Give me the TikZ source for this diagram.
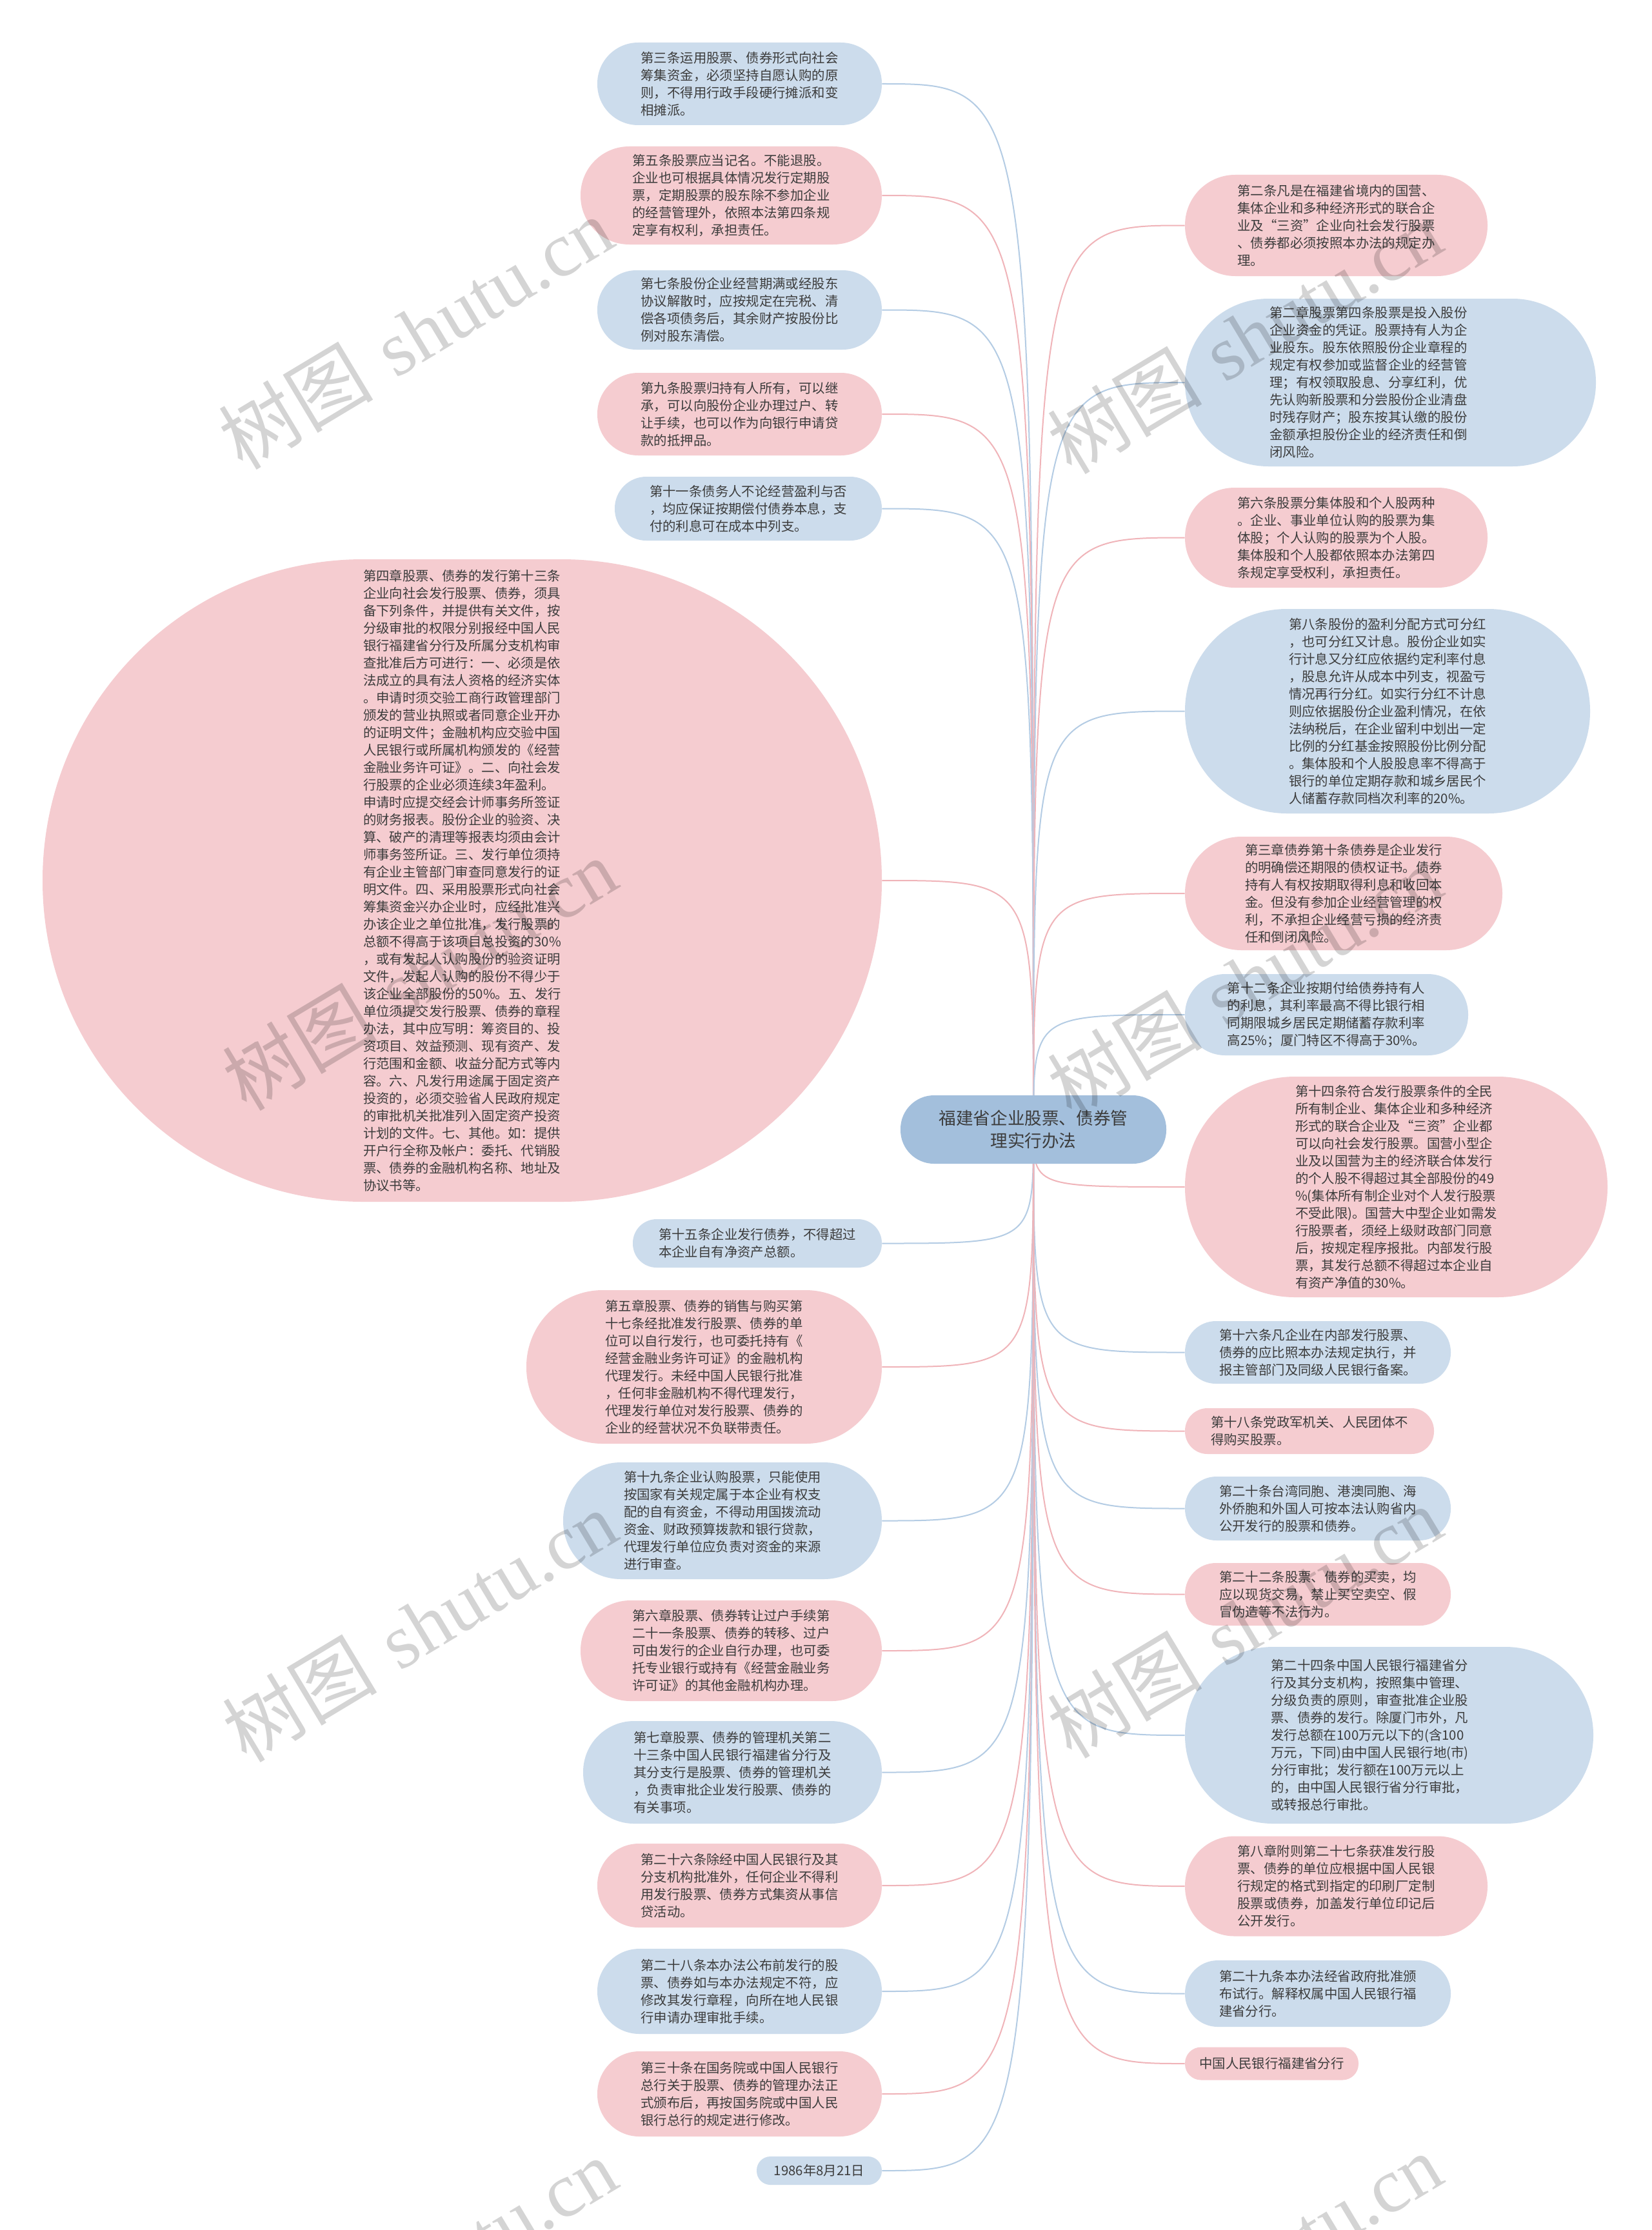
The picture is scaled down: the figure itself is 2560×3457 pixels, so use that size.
\documentclass[tikz,border=0pt]{standalone}
\usepackage{fontspec}
\newfontfamily\cjk{Noto Sans CJK SC}
\newfontfamily\wmserif{Liberation Serif}
\usetikzlibrary{backgrounds}
\pgfdeclarelayer{bgzero}
\pgfsetlayers{bgzero,background,main}
\definecolor{fb}{HTML}{CCDCEC}
\definecolor{fp}{HTML}{F5CCD0}
\definecolor{fc}{HTML}{A3BFDC}
\definecolor{txt}{HTML}{3C3C3C}
\definecolor{lp}{HTML}{F0B4B9}
\definecolor{lb}{HTML}{B4CCE4}
\tikzset{
  mm/.style={inner sep=0pt, align=left, text=txt, font=\cjk\fontsize{10.2pt}{13.5pt}\selectfont},
  ctr/.style={inner sep=0pt, align=center, text=txt, font=\cjk\fontsize{13.3pt}{17.5pt}\selectfont},
  lnp/.style={draw=lp, line width=1pt},
  lnb/.style={draw=lb, line width=1pt},
  wm/.style={text=black, text opacity=0.17, inner sep=0pt, rotate=31}
}
\newcommand\mmn[7]{\node[mm, fill=#2, minimum width=#5*0.5pt, minimum height=#6*0.5pt, rounded corners=#6*0.25pt-0.3pt] (#1) at (#3,#4) {#7};}
\newcommand\mmo[8]{\node[mm, fill=#2, minimum width=#5*0.5pt, minimum height=#6*0.5pt, rounded corners=#6*0.25pt-0.3pt] (#1) at (#3,#4) {};
  \node[mm, xshift=#8*0.5pt] (#1t) at (#1.center) {#7};}
\begin{document}
\begin{tikzpicture}[x=0.5pt, y=-0.5pt]
\useasboundingbox (0,0) rectangle (2560,3457);
\begin{pgfonlayer}{bgzero}
\fill[white] (0,0) rectangle (2560,3457);
\end{pgfonlayer}
% centre
\node[ctr, fill=fc, minimum width=206pt, minimum height=53pt, rounded corners=26pt] (C) at (1602,1751) {福建省企业股票、债券管\\理实行办法};
% left column
\mmn{L1}{fb}{1146.5}{130}{441}{128}{第三条运用股票、债券形式向社会\\筹集资金，必须坚持自愿认购的原\\则，不得用行政手段硬行摊派和变\\相摊派。}
\mmn{L2}{fp}{1133.5}{303}{467}{152}{第五条股票应当记名。不能退股。\\企业也可根据具体情况发行定期股\\票，定期股票的股东除不参加企业\\的经营管理外，依照本法第四条规\\定享有权利，承担责任。}
\mmn{L3}{fb}{1146.5}{480.5}{441}{123}{第七条股份企业经营期满或经股东\\协议解散时，应按规定在完税、清\\偿各项债务后，其余财产按股份比\\例对股东清偿。}
\mmn{L4}{fp}{1146.5}{642}{441}{128}{第九条股票归持有人所有，可以继\\承，可以向股份企业办理过户、转\\让手续，也可以作为向银行申请贷\\款的抵押品。}
\mmn{L5}{fb}{1160}{788.5}{414}{99}{第十一条债务人不论经营盈利与否\\，均应保证按期偿付债券本息，支\\付的利息可在成本中列支。}
\mmn{L6}{fp}{716.5}{1365}{1301}{996}{第四章股票、债券的发行第十三条\\企业向社会发行股票、债券，须具\\备下列条件，并提供有关文件，按\\分级审批的权限分别报经中国人民\\银行福建省分行及所属分支机构审\\查批准后方可进行：一、必须是依\\法成立的具有法人资格的经济实体\\。申请时须交验工商行政管理部门\\颁发的营业执照或者同意企业开办\\的证明文件；金融机构应交验中国\\人民银行或所属机构颁发的《经营\\金融业务许可证》。二、向社会发\\行股票的企业必须连续3年盈利。\\申请时应提交经会计师事务所签证\\的财务报表。股份企业的验资、决\\算、破产的清理等报表均须由会计\\师事务签所证。三、发行单位须持\\有企业主管部门审查同意发行的证\\明文件。四、采用股票形式向社会\\筹集资金兴办企业时，应经批准兴\\办该企业之单位批准，发行股票的\\总额不得高于该项目总投资的30\%\\，或有发起人认购股份的验资证明\\文件，发起人认购的股份不得少于\\该企业全部股份的50\%。五、发行\\单位须提交发行股票、债券的章程\\办法，其中应写明：筹资目的、投\\资项目、效益预测、现有资产、发\\行范围和金额、收益分配方式等内\\容。六、凡发行用途属于固定资产\\投资的，必须交验省人民政府规定\\的审批机关批准列入固定资产投资\\计划的文件。七、其他。如：提供\\开户行全称及帐户：委托、代销股\\票、债券的金融机构名称、地址及\\协议书等。}
\mmn{L7}{fb}{1174}{1927.5}{386}{75}{第十五条企业发行债券，不得超过\\本企业自有净资产总额。}
\mmn{L8}{fp}{1091.5}{2119}{551}{238}{第五章股票、债券的销售与购买第\\十七条经批准发行股票、债券的单\\位可以自行发行，也可委托持有《\\经营金融业务许可证》的金融机构\\代理发行。未经中国人民银行批准\\，任何非金融机构不得代理发行，\\代理发行单位对发行股票、债券的\\企业的经营状况不负联带责任。}
\mmn{L9}{fb}{1120}{2357.5}{494}{181}{第十九条企业认购股票，只能使用\\按国家有关规定属于本企业有权支\\配的自有资金，不得动用国拨流动\\资金、财政预算拨款和银行贷款，\\代理发行单位应负责对资金的来源\\进行审查。}
\mmn{L10}{fp}{1133.5}{2559}{467}{156}{第六章股票、债券转让过户手续第\\二十一条股票、债券的转移、过户\\可由发行的企业自行办理，也可委\\托专业银行或持有《经营金融业务\\许可证》的其他金融机构办理。}
\mmn{L11}{fb}{1135.5}{2747.5}{463}{159}{第七章股票、债券的管理机关第二\\十三条中国人民银行福建省分行及\\其分支行是股票、债券的管理机关\\，负责审批企业发行股票、债券的\\有关事项。}
\mmn{L12}{fp}{1146.5}{2923}{441}{130}{第二十六条除经中国人民银行及其\\分支机构批准外，任何企业不得利\\用发行股票、债券方式集资从事信\\贷活动。}
\mmn{L13}{fb}{1146.5}{3087}{441}{132}{第二十八条本办法公布前发行的股\\票、债券如与本办法规定不符，应\\修改其发行章程，向所在地人民银\\行申请办理审批手续。}
\mmn{L14}{fp}{1146.5}{3246}{441}{132}{第三十条在国务院或中国人民银行\\总行关于股票、债券的管理办法正\\式颁布后，再按国务院或中国人民\\银行总行的规定进行修改。}
\mmn{L15}{fb}{1270}{3365}{194}{44}{1986年8月21日}
% right column
\mmn{R1}{fp}{2071.5}{349.5}{469}{157}{第二条凡是在福建省境内的国营、\\集体企业和多种经济形式的联合企\\业及“三资”企业向社会发行股票\\、债券都必须按照本办法的规定办\\理。}
\mmo{R2}{fb}{2155.5}{593}{637}{260}{第二章股票第四条股票是投入股份\\企业资金的凭证。股票持有人为企\\业股东。股东依照股份企业章程的\\规定有权参加或监督企业的经营管\\理；有权领取股息、分享红利，优\\先认购新股票和分尝股份企业清盘\\时残存财产；股东按其认缴的股份\\金额承担股份企业的经济责任和倒\\闭风险。}{-34}
\mmn{R3}{fp}{2071.5}{833.5}{469}{155}{第六条股票分集体股和个人股两种\\。企业、事业单位认购的股票为集\\体股；个人认购的股票为个人股。\\集体股和个人股都依照本办法第四\\条规定享受权利，承担责任。}
\mmn{R4}{fb}{2151}{1102.5}{628}{317}{第八条股份的盈利分配方式可分红\\，也可分红又计息。股份企业如实\\行计息又分红应依据约定利率付息\\，股息允许从成本中列支，视盈亏\\情况再行分红。如实行分红不计息\\则应依据股份企业盈利情况，在依\\法纳税后，在企业留利中划出一定\\比例的分红基金按照股份比例分配\\。集体股和个人股股息率不得高于\\银行的单位定期存款和城乡居民个\\人储蓄存款同档次利率的20\%。}
\mmn{R5}{fp}{2083}{1385}{492}{176}{第三章债券第十条债券是企业发行\\的明确偿还期限的债权证书。债券\\持有人有权按期取得利息和收回本\\金。但没有参加企业经营管理的权\\利，不承担企业经营亏损的经济责\\任和倒闭风险。}
\mmn{R6}{fb}{2056.5}{1573}{439}{126}{第十二条企业按期付给债券持有人\\的利息，其利率最高不得比银行相\\同期限城乡居民定期储蓄存款利率\\高25\%；厦门特区不得高于30\%。}
\mmn{R7}{fp}{2164.5}{1840}{655}{342}{第十四条符合发行股票条件的全民\\所有制企业、集体企业和多种经济\\形式的联合企业及“三资”企业都\\可以向社会发行股票。国营小型企\\业及以国营为主的经济联合体发行\\的个人股不得超过其全部股份的49\\\%(集体所有制企业对个人发行股票\\不受此限)。国营大中型企业如需发\\行股票者，须经上级财政部门同意\\后，按规定程序报批。内部发行股\\票，其发行总额不得超过本企业自\\有资产净值的30\%。}
\mmn{R8}{fb}{2043}{2096.5}{412}{97}{第十六条凡企业在内部发行股票、\\债券的应比照本办法规定执行，并\\报主管部门及同级人民银行备案。}
\mmn{R9}{fp}{2030}{2218.5}{386}{71}{第十八条党政军机关、人民团体不\\得购买股票。}
\mmn{R10}{fb}{2043}{2338.5}{412}{99}{第二十条台湾同胞、港澳同胞、海\\外侨胞和外国人可按本法认购省内\\公开发行的股票和债券。}
\mmn{R11}{fp}{2043}{2471.5}{412}{97}{第二十二条股票、债券的买卖，均\\应以现货交易，禁止买空卖空、假\\冒伪造等不法行为。}
\mmo{R12}{fb}{2153.5}{2690}{633}{274}{第二十四条中国人民银行福建省分\\行及其分支机构，按照集中管理、\\分级负责的原则，审查批准企业股\\票、债券的发行。除厦门市外，凡\\发行总额在100万元以下的(含100\\万元，下同)由中国人民银行地(市)\\分行审批；发行额在100万元以上\\的，由中国人民银行省分行审批，\\或转报总行审批。}{-30}
\mmn{R13}{fp}{2071.5}{2924}{469}{155}{第八章附则第二十七条获准发行股\\票、债券的单位应根据中国人民银\\行规定的格式到指定的印刷厂定制\\股票或债券，加盖发行单位印记后\\公开发行。}
\mmn{R14}{fb}{2043}{3090.5}{412}{103}{第二十九条本办法经省政府批准颁\\布试行。解释权属中国人民银行福\\建省分行。}
\mmn{R15}{fp}{1971.5}{3199}{269}{51}{中国人民银行福建省分行}
% connectors
\begin{pgfonlayer}{background}
\foreach \n/\s in {L1/lnb,L2/lnp,L3/lnb,L4/lnp,L5/lnb,L6/lnp,L7/lnb,L8/lnp,L9/lnb,L10/lnp,L11/lnb,L12/lnp,L13/lnb,L14/lnp,L15/lnb}
  \draw[\s] (C.center) .. controls (C.center |- \n.east) .. (\n.east);
\foreach \n/\s in {R1/lnp,R2/lnb,R3/lnp,R4/lnb,R5/lnp,R6/lnb,R7/lnp,R8/lnb,R9/lnp,R10/lnb,R11/lnp,R12/lnb,R13/lnp,R14/lnb,R15/lnp}
  \draw[\s] (C.center) .. controls (C.center |- \n.west) .. (\n.west);
\end{pgfonlayer}
% watermarks
\begin{scope}
\clip (0,0) rectangle (2560,3457);
\foreach \i/\x/\y in {1/644/516,2/1929/523,3/650/1510,4/1929/1521,5/650/2520,6/1929/2514,7/650/3524,8/1929/3517}
  \node[wm] (W\i) at (\x,\y) {\fontsize{60pt}{60pt}\selectfont{\cjk 树图} {\wmserif shutu.cn}};
\end{scope}
\end{tikzpicture}
\end{document}
